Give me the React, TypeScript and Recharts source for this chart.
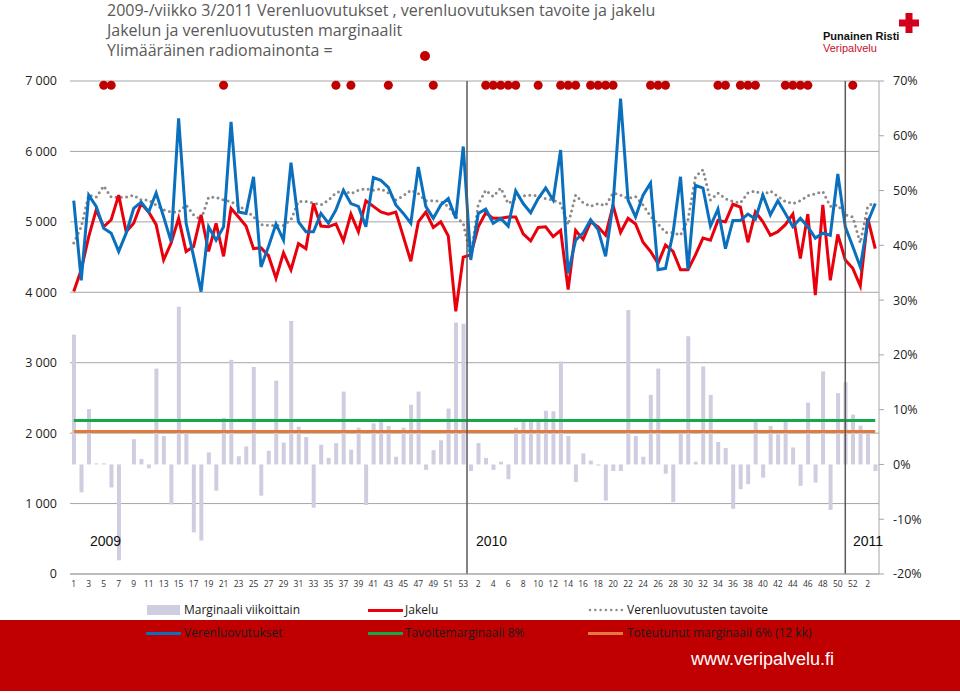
import { ComposedChart, Bar, Line, XAxis, YAxis, CartesianGrid, ReferenceLine } from "recharts"

// vuodet ja viikkojen määrä
const years = [
  { year: 2009, weeks: 53 },
  { year: 2010, weeks: 52 },
  { year: 2011, weeks: 3 },
]

const verenluovutukset = [
  5300, 4170, 5380, 5220, 4910, 4840, 4580, 4840, 5190, 5280, 5140, 5410, 5070, 4720, 6470, 4980, 4510, 4010, 4930, 4740,
  4930, 6420, 5140, 5120, 5640, 4360, 4650, 4970, 4740, 5840, 5000, 4860, 4860, 5120, 4980, 5170, 5450, 5260, 5220, 4930,
  5630, 5590, 5490, 5240, 5120, 4980, 5780, 5220, 5050, 5240, 5330, 5050, 6070,
  4460, 5120, 5180, 4980, 5050, 4940, 5440, 5260, 5130, 5330, 5480, 5310, 6020, 4270, 4740, 4840, 5030, 4890, 4510, 5260,
  6750, 5310, 5070, 5380, 5550, 4320, 4340, 4840, 5640, 4320, 5520, 5480, 4940, 5180, 4620, 5020, 5020, 5110, 5040, 5380,
  5100, 5300, 5120, 4930, 5050, 4930, 4770, 4840, 4810, 5680, 4930, 4650,
  4360, 5000, 5260,
]

const jakelu = [
  4010, 4320, 4790, 5170, 4930, 5030, 5380, 4860, 4980, 5260, 5140, 4960, 4460, 4700, 5050, 4580, 4650, 5100, 4580, 4980,
  4510, 5190, 5070, 4940, 4620, 4630, 4520, 4200, 4560, 4320, 4690, 4620, 5260, 4940, 4930, 4970, 4730, 5110, 4860, 5300,
  5220, 5140, 5110, 5140, 4790, 4440, 5000, 5140, 4920, 5000, 4800, 3730, 4500,
  4530, 4930, 5130, 5050, 5050, 5070, 5070, 4830, 4730, 4920, 4930, 4790, 4880, 4040, 4880, 4750, 5000, 4930, 4810, 5230,
  4850, 5050, 4970, 4710, 4580, 4410, 4670, 4580, 4320, 4320, 4530, 4770, 4740, 5020, 5000, 5250, 5210, 4710, 5140, 5000,
  4810, 4860, 4960, 5110, 4480, 5110, 3960, 5240, 4170, 4820, 4460, 4340,
  4090, 5050, 4620,
]

const tavoite = [
  4700, 4930, 5380, 5350, 5510, 5350, 5350, 5350, 5380, 5310, 5310, 5240, 5170, 5140, 5140, 5240, 5100, 5030, 5350, 5350,
  5310, 5290, 5220, 5170, 5070, 4960, 4950, 4950, 4950, 5030, 5290, 5290, 5270, 5240, 5310, 5410, 5450, 5400, 5450, 5470,
  5450, 5470, 5410, 5310, 5370, 5450, 5400, 5300, 5300, 5290, 5220, 5070, 4980,
  4500, 5250, 5450, 5360, 5480, 5260, 5330, 5370, 5380, 5370, 5330, 5310, 5260, 4960, 5380, 5270, 5220, 5260, 5230, 5410,
  5380, 5330, 5360, 5240, 5080, 4970, 4850, 4850, 4810, 5030, 5640, 5740, 5310, 5410, 5330, 5290, 5270, 5410, 5440, 5380,
  5440, 5360, 5290, 5260, 5300, 5370, 5400, 5430, 5220, 5240, 5100, 5070,
  4700, 5220, 5280,
]

// marginaali viikoittain, %
const marginaali = [
  23.7, -5.1, 10.1, 0.2, 0.2, -4.2, -17.5, 0, 4.6, 1.0, -0.7, 17.5, 5.2, -7.3, 28.8, 5.8, -12.4, -13.9, 2.2, -4.8,
  8.5, 19.1, 1.5, 3.3, 17.8, -5.7, 2.5, 15.3, 4.0, 26.2, 6.9, 5.0, -7.9, 3.6, 1.2, 3.9, 13.3, 2.7, 6.7, -7.4,
  7.5, 7.9, 7.0, 1.4, 6.7, 10.9, 13.3, -1.0, 2.6, 4.4, 10.2, 25.9, 25.7,
  -1.2, 3.9, 1.2, -1.0, 0.5, -2.7, 6.7, 8.0, 7.8, 7.8, 9.8, 9.7, 18.8, 5.2, -3.2, 2.0, 0.7, -0.2, -6.6, -1.2,
  -1.2, 28.2, 5.2, 1.4, 12.7, 17.5, -1.7, -6.9, 5.7, 23.4, 0.5, 17.9, 12.7, 4.1, 3.0, -8.1, -4.5, -3.6, 7.9, -2.4,
  7.0, 5.5, 8.2, 3.1, -3.9, 11.3, -3.3, 17.0, -8.3, 13.0, 15.0, 9.1,
  7.1, 5.6, -1.2,
]

// ylimääräinen radiomainonta
const radioWeeks = [
  "2009/5", "2009/6", "2009/21", "2009/36", "2009/38", "2009/43", "2009/49",
  "2010/3", "2010/4", "2010/5", "2010/6", "2010/7", "2010/10", "2010/13", "2010/14", "2010/15",
  "2010/17", "2010/18", "2010/19", "2010/20", "2010/25", "2010/26", "2010/27", "2010/34", "2010/35",
  "2010/37", "2010/38", "2010/39", "2010/43", "2010/44", "2010/45", "2010/46", "2010/52",
]

const TAVOITEMARGINAALI = 8
const TOTEUTUNUT = 6
const RADIO_LEVEL = 6940

const weekKeys = years.flatMap((y) => Array.from({ length: y.weeks }, (_, w) => `${y.year}/${w + 1}`))

const data = weekKeys.map((key, i) => ({
  key,
  verenluovutukset: verenluovutukset[i],
  jakelu: jakelu[i],
  tavoite: tavoite[i],
  marginaali: marginaali[i],
  tavoitemarginaali: TAVOITEMARGINAALI,
  toteutunut: TOTEUTUNUT,
  radio: radioWeeks.includes(key) ? RADIO_LEVEL : null,
}))

const COLORS = {
  bar: "#cfcde0",
  jakelu: "#e8000d",
  luovutukset: "#0a70be",
  tavoite: "#8a8a8a",
  green: "#14a84a",
  orange: "#e07b39",
  radio: "#c00000",
  grid: "#a6a6a6",
  text: "#595959",
}

const legendText = { fontSize: 12, color: "#1a1a1a", position: "absolute" as const, whiteSpace: "nowrap" as const, lineHeight: "14px" }

function Swatch({ x, y, color, kind }: { x: number; y: number; color: string; kind: "rect" | "line" | "dots" }) {
  if (kind === "rect") {
    return <div style={{ position: "absolute", left: x, top: y - 5, width: 33, height: 10, background: color }} />
  }
  if (kind === "dots") {
    return (
      <svg style={{ position: "absolute", left: x, top: y - 3 }} width={36} height={6}>
        <line x1={2} y1={3} x2={34} y2={3} stroke={color} strokeWidth={2.5} strokeDasharray="0 5.3" strokeLinecap="round" />
      </svg>
    )
  }
  return <div style={{ position: "absolute", left: x, top: y - 1.5, width: 35, height: 3, background: color }} />
}

export default function App() {
  return (
    <div
      style={{
        position: "absolute",
        left: 0,
        top: 0,
        width: 960,
        height: 693,
        overflow: "hidden",
        background: "#fff",
        fontFamily: "'Open Sans', sans-serif",
      }}
    >
      {/* otsikko */}
      <div style={{ position: "absolute", left: 107, top: 0, color: COLORS.text, fontSize: 16, lineHeight: "20px" }}>
        <div>2009-/viikko 3/2011 Verenluovutukset , verenluovutuksen tavoite ja jakelu</div>
        <div>Jakelun ja verenluovutusten marginaalit</div>
        <div>Ylimääräinen radiomainonta =</div>
      </div>
      <div style={{ position: "absolute", left: 420, top: 51, width: 10, height: 10, borderRadius: 5, background: COLORS.radio }} />

      {/* logo */}
      <svg style={{ position: "absolute", left: 899, top: 13 }} width={20} height={20}>
        <rect x={6.5} y={0} width={7} height={20} fill="#d3001b" />
        <rect x={0} y={6.5} width={20} height={7} fill="#d3001b" />
      </svg>
      <div style={{ position: "absolute", left: 823, top: 30, fontFamily: "'Liberation Sans', Arial", fontWeight: 700, fontSize: 11, color: "#111", lineHeight: "12px" }}>
        Punainen Risti
      </div>
      <div style={{ position: "absolute", left: 823, top: 42, fontFamily: "'Liberation Sans', Arial", fontSize: 11, color: "#c8102e", lineHeight: "12px" }}>
        Veripalvelu
      </div>

      <div style={{ position: "absolute", left: 0, top: 0 }}>
        <ComposedChart width={960} height={610} data={data} margin={{ top: 81, right: 0, bottom: 6, left: 0 }} barGap={0}>
          <CartesianGrid yAxisId="left" vertical={false} stroke={COLORS.grid} strokeWidth={1} />
          <XAxis
            dataKey="key"
            interval={1}
            tickFormatter={(v: string) => v.split("/")[1]}
            tick={{ fontSize: 8.5, fill: "#333" }}
            tickLine={false}
            tickSize={0}
            tickMargin={7}
            axisLine={{ stroke: COLORS.grid }}
            height={30}
          />
          <YAxis
            yAxisId="left"
            domain={[0, 7000]}
            ticks={[0, 1000, 2000, 3000, 4000, 5000, 6000, 7000]}
            tickFormatter={(v: number) => v.toLocaleString("fi-FI").replace(/\s/g, " ")}
            width={70}
            axisLine={false}
            tickLine={false}
            tickSize={0}
            tickMargin={13}
            tick={{ fontSize: 12.5, fill: "#222" }}
          />
          <YAxis
            yAxisId="right"
            orientation="right"
            domain={[-20, 70]}
            ticks={[-20, -10, 0, 10, 20, 30, 40, 50, 60, 70]}
            tickFormatter={(v: number) => `${v}%`}
            width={81}
            axisLine={{ stroke: COLORS.grid }}
            tickLine={{ stroke: COLORS.grid }}
            tickSize={5}
            tickMargin={9}
            tick={{ fontSize: 12.5, fill: "#222" }}
          />
          <Bar yAxisId="right" dataKey="marginaali" fill={COLORS.bar} barSize={4} isAnimationActive={false} />
          <Line yAxisId="right" dataKey="tavoitemarginaali" stroke={COLORS.green} strokeWidth={3} dot={false} isAnimationActive={false} />
          <Line yAxisId="right" dataKey="toteutunut" stroke={COLORS.orange} strokeWidth={3} dot={false} isAnimationActive={false} />
          <Line
            yAxisId="left"
            dataKey="tavoite"
            type="linear"
            stroke={COLORS.tavoite}
            strokeWidth={3}
            strokeDasharray="0 5.3"
            strokeLinecap="round"
            dot={false}
            isAnimationActive={false}
          />
          <Line yAxisId="left" dataKey="jakelu" type="linear" stroke={COLORS.jakelu} strokeWidth={3} dot={false} isAnimationActive={false} />
          <Line yAxisId="left" dataKey="verenluovutukset" type="linear" stroke={COLORS.luovutukset} strokeWidth={3} dot={false} isAnimationActive={false} />
          <ReferenceLine yAxisId="left" x="2009/53" position="end" stroke="#5a5a5a" strokeWidth={1.5} />
          <ReferenceLine yAxisId="left" x="2010/51" position="middle" stroke="#5a5a5a" strokeWidth={1.5} />
          <Line
            yAxisId="left"
            dataKey="radio"
            stroke="none"
            dot={{ r: 4.5, fill: COLORS.radio, stroke: "none" }}
            isAnimationActive={false}
          />
        </ComposedChart>
      </div>

      {/* vuosiluvut */}
      {[
        { t: "2009", x: 90 },
        { t: "2010", x: 476 },
        { t: "2011", x: 853 },
      ].map((y) => (
        <div key={y.t} style={{ position: "absolute", left: y.x, top: 533, fontFamily: "'Liberation Sans', Arial", fontSize: 14, color: "#111", lineHeight: "16px" }}>
          {y.t}
        </div>
      ))}

      {/* selite */}
      <div style={{ position: "absolute", left: 0, top: 620, width: 960, height: 71, background: "#c00000" }} />
      <Swatch x={147} y={610} color={COLORS.bar} kind="rect" />
      <div style={{ ...legendText, left: 184, top: 603 }}>Marginaali viikoittain</div>
      <Swatch x={368} y={610} color={COLORS.jakelu} kind="line" />
      <div style={{ ...legendText, left: 405, top: 603 }}>Jakelu</div>
      <Swatch x={588} y={610} color={COLORS.tavoite} kind="dots" />
      <div style={{ ...legendText, left: 627, top: 603 }}>Verenluovutusten tavoite</div>

      <Swatch x={146} y={633} color={COLORS.luovutukset} kind="line" />
      <div style={{ ...legendText, left: 184, top: 626 }}>Verenluovutukset</div>
      <Swatch x={368} y={633} color={COLORS.green} kind="line" />
      <div style={{ ...legendText, left: 405, top: 626 }}>Tavoitemarginaali 8%</div>
      <Swatch x={588} y={633} color={COLORS.orange} kind="line" />
      <div style={{ ...legendText, left: 627, top: 626 }}>Toteutunut marginaali 6% (12 kk)</div>

      <div style={{ position: "absolute", left: 691, top: 649, fontFamily: "'Liberation Sans', Arial", fontSize: 18, color: "#fff", lineHeight: "20px" }}>
        www.veripalvelu.fi
      </div>
    </div>
  )
}
